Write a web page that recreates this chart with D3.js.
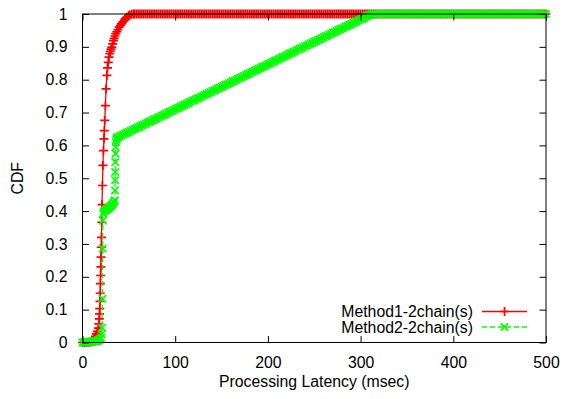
<!DOCTYPE html>
<html><head><meta charset="utf-8">
<script src="https://cdn.jsdelivr.net/npm/d3@7/dist/d3.min.js"></script>
<style>
body{margin:0;background:#fff}
svg{display:block}
text{font-family:"Liberation Sans",Arial,Helvetica,sans-serif;font-size:15.8px;fill:#000}
</style>
</head><body>
<svg id="chart" width="563" height="399"></svg>
<script>
// ---------- data ----------
const xTicks = [0, 100, 200, 300, 400, 500];
const yTicks = [0, 0.1, 0.2, 0.3, 0.4, 0.5, 0.6, 0.7, 0.8, 0.9, 1];
const yTickLabels = ["0", "0.1", "0.2", "0.3", "0.4", "0.5", "0.6", "0.7", "0.8", "0.9", "1"];
const seriesNames = ["Method1-2chain(s)", "Method2-2chain(s)"];
const xLabel = "Processing Latency (msec)";
const yLabel = "CDF";

// Method1: [latency msec, cdf]
const method1Head = [[0,0],[2,0],[4,0],[6,0.001],[8,0.001],[10,0.002],[11,0.004],[12,0.008],[13,0.013],[14,0.019],[15,0.026],[16,0.034],[17,0.044],
[17.6,0.057],[18.1,0.072],[18.4,0.087],[18.6,0.103],[18.9,0.125],[19.1,0.15],[19.3,0.179],[19.5,0.204],[19.8,0.23],
[20,0.26],[20.3,0.29],[20.5,0.32],[20.8,0.366],[21.1,0.42],[21.5,0.478],
[22,0.539],[22.6,0.584],[23.2,0.62],[23.6,0.645],[24,0.676],[24.7,0.721],[25.4,0.772],[26.3,0.813],[27,0.836],[27.8,0.853],[28.6,0.869],[29.4,0.879],
[30,0.886],[30.8,0.893],[31.6,0.899],[32.5,0.909],[33.4,0.919],[34.2,0.926],[35,0.933],[35.9,0.94],
[37,0.946],[38.2,0.952],[39.5,0.96],[40.8,0.965],[42,0.97],[43.4,0.975],[44.9,0.98],[46,0.985],[47.5,0.99],[49.6,0.995],[51,0.997],[53,0.999],[55,1]];
const method1Tail = [[56,1],[58,1],[60,1],[62,1],[64,1],[66,1],[68,1],[70,1],[72,1],[74,1],[76,1],[78,1],[80,1],[82,1],[84,1],[86,1],[88,1],[90,1],[92,1],[94,1],[96,1],[98,1],[100,1],
[102,1],[104,1],[106,1],[108,1],[110,1],[112,1],[114,1],[116,1],[118,1],[120,1],[122,1],[124,1],[126,1],[128,1],[130,1],[132,1],[134,1],[136,1],[138,1],[140,1],[142,1],[144,1],[146,1],[148,1],[150,1],
[152,1],[154,1],[156,1],[158,1],[160,1],[162,1],[164,1],[166,1],[168,1],[170,1],[172,1],[174,1],[176,1],[178,1],[180,1],[182,1],[184,1],[186,1],[188,1],[190,1],[192,1],[194,1],[196,1],[198,1],[200,1],
[202,1],[204,1],[206,1],[208,1],[210,1],[212,1],[214,1],[216,1],[218,1],[220,1],[222,1],[224,1],[226,1],[228,1],[230,1],[232,1],[234,1],[236,1],[238,1],[240,1],[242,1],[244,1],[246,1],[248,1],[250,1],
[252,1],[254,1],[256,1],[258,1],[260,1],[262,1],[264,1],[266,1],[268,1],[270,1],[272,1],[274,1],[276,1],[278,1],[280,1],[282,1],[284,1],[286,1],[288,1],[290,1],[292,1],[294,1],[296,1],[298,1],[300,1],
[302,1],[304,1],[306,1],[308,1],[310,1],[312,1],[314,1],[316,1],[318,1],[320,1],[322,1],[324,1],[326,1],[328,1],[330,1],[332,1],[334,1],[336,1],[338,1],[340,1],[342,1],[344,1],[346,1],[348,1],[350,1],
[352,1],[354,1],[356,1],[358,1],[360,1],[362,1],[364,1],[366,1],[368,1],[370,1],[372,1],[374,1],[376,1],[378,1],[380,1],[382,1],[384,1],[386,1],[388,1],[390,1],[392,1],[394,1],[396,1],[398,1],[400,1],
[402,1],[404,1],[406,1],[408,1],[410,1],[412,1],[414,1],[416,1],[418,1],[420,1],[422,1],[424,1],[426,1],[428,1],[430,1],[432,1],[434,1],[436,1],[438,1],[440,1],[442,1],[444,1],[446,1],[448,1],[450,1],
[452,1],[454,1],[456,1],[458,1],[460,1],[462,1],[464,1],[466,1],[468,1],[470,1],[472,1],[474,1],[476,1],[478,1],[480,1],[482,1],[484,1],[486,1],[488,1],[490,1],[492,1],[494,1],[496,1],[498,1],[500,1]];

// Method2: [latency msec, cdf]
const method2Head = [[0,0],[1,0],[2,0.001],[3,0.001],[4,0.001],[5,0.001],[6,0.001],[7,0.002],[8,0.002],[9,0.002],[10,0.002],[11,0.003],[12,0.003],[13,0.003],[14,0.004],[15,0.004],[16,0.005],[17,0.006],[18,0.008],[19,0.01],[20,0.014],
[20.6,0.025],[21.2,0.045],[21.5,0.133],[21.8,0.286],[22,0.371],[22.4,0.392],[23,0.398],[24,0.401],[25,0.403],[26,0.405],[27,0.407],[28,0.409],[29,0.411],[30,0.414],[31,0.417],[32,0.42],[33,0.424],[34,0.428],[35,0.433],
[35.1,0.463],[35.2,0.494],[35.3,0.519],[35.4,0.549],[35.6,0.575],[35.8,0.595],[36.1,0.61],[36.5,0.618],[37,0.622]];
const method2Mid = [[38,0.625],[40,0.628],[42,0.630],[44,0.633],[46,0.636],[48,0.639],[50,0.641],[52,0.644],[54,0.647],[56,0.650],[58,0.652],[60,0.655],[62,0.658],[64,0.661],[66,0.663],[68,0.666],[70,0.669],[72,0.672],[74,0.674],[76,0.677],
[78,0.680],[80,0.682],[82,0.685],[84,0.688],[86,0.691],[88,0.693],[90,0.696],[92,0.699],[94,0.702],[96,0.704],[98,0.707],[100,0.710],[102,0.713],[104,0.715],[106,0.718],[108,0.721],[110,0.724],[112,0.726],[114,0.729],[116,0.732],
[118,0.735],[120,0.737],[122,0.740],[124,0.743],[126,0.745],[128,0.748],[130,0.751],[132,0.754],[134,0.756],[136,0.759],[138,0.762],[140,0.765],[142,0.767],[144,0.770],[146,0.773],[148,0.776],[150,0.778],[152,0.781],[154,0.784],[156,0.786],
[158,0.789],[160,0.792],[162,0.795],[164,0.797],[166,0.800],[168,0.803],[170,0.806],[172,0.808],[174,0.811],[176,0.814],[178,0.817],[180,0.819],[182,0.822],[184,0.825],[186,0.828],[188,0.830],[190,0.833],[192,0.836],[194,0.839],[196,0.841],
[198,0.844],[200,0.847],[202,0.849],[204,0.852],[206,0.855],[208,0.858],[210,0.860],[212,0.863],[214,0.866],[216,0.869],[218,0.871],[220,0.874],[222,0.877],[224,0.880],[226,0.882],[228,0.885],[230,0.888],[232,0.891],[234,0.893],[236,0.896],
[238,0.899],[240,0.902],[242,0.904],[244,0.907],[246,0.910],[248,0.912],[250,0.915],[252,0.918],[254,0.921],[256,0.923],[258,0.926],[260,0.929],[262,0.932],[264,0.934],[266,0.937],[268,0.940],[270,0.943],[272,0.945],[274,0.948],[276,0.951],
[278,0.954],[280,0.956],[282,0.959],[284,0.962],[286,0.964],[288,0.967],[290,0.970],[292,0.973],[294,0.975],[296,0.978],[298,0.981],[300,0.984],[302,0.986],[304,0.989],[306,0.992],[308,0.995],[310,0.997],[312,1]];
const method2Tail = [[314,1],[316,1],[318,1],[320,1],[322,1],[324,1],[326,1],[328,1],[330,1],[332,1],[334,1],[336,1],[338,1],[340,1],[342,1],[344,1],[346,1],[348,1],[350,1],
[352,1],[354,1],[356,1],[358,1],[360,1],[362,1],[364,1],[366,1],[368,1],[370,1],[372,1],[374,1],[376,1],[378,1],[380,1],[382,1],[384,1],[386,1],[388,1],[390,1],[392,1],[394,1],[396,1],[398,1],[400,1],
[402,1],[404,1],[406,1],[408,1],[410,1],[412,1],[414,1],[416,1],[418,1],[420,1],[422,1],[424,1],[426,1],[428,1],[430,1],[432,1],[434,1],[436,1],[438,1],[440,1],[442,1],[444,1],[446,1],[448,1],[450,1],
[452,1],[454,1],[456,1],[458,1],[460,1],[462,1],[464,1],[466,1],[468,1],[470,1],[472,1],[474,1],[476,1],[478,1],[480,1],[482,1],[484,1],[486,1],[488,1],[490,1],[492,1],[494,1],[496,1],[498,1],[500,1]];

const method1 = method1Head.concat(method1Tail);
const method2 = method2Head.concat(method2Mid, method2Tail);

// ---------- layout ----------
const W = 563, H = 399;
const plot = {left: 82.5, right: 546, top: 14, bottom: 342.5};
const colors = ["#ff0000", "#00ff00"];
const markerR = 4.5;

const svg = d3.select("#chart");
svg.append("rect").attr("width", W).attr("height", H).attr("fill", "#fff");

const x = d3.scaleLinear().domain([0, 500]).range([plot.left, plot.right]);
const y = d3.scaleLinear().domain([0, 1]).range([plot.bottom, plot.top]);

const plusPath = `M${-markerR},0H${markerR}M0,${-markerR}V${markerR}`;
const cr = markerR - 0.8;
const crossPath = `M${-cr},${-cr}L${cr},${cr}M${cr},${-cr}L${-cr},${cr}`;
const markers = [plusPath, crossPath];
const dashes = [null, "5,3"];

const line = d3.line().x(d => x(d[0])).y(d => y(d[1]));
const allSeries = [method1, method2];

allSeries.forEach((data, i) => {
  const g = svg.append("g");
  g.append("path").attr("d", line(data)).attr("fill", "none")
    .attr("stroke", colors[i]).attr("stroke-width", 1.3)
    .attr("stroke-dasharray", dashes[i]);
  g.selectAll("path.m").data(data).join("path").attr("class", "m")
    .attr("d", markers[i])
    .attr("transform", d => `translate(${x(d[0])},${y(d[1])})`)
    .attr("fill", "none").attr("stroke", colors[i]).attr("stroke-width", 1.7);
});

// ---------- axes / border ----------
const tickLen = 6.5;
const axisG = svg.append("g");
const xAxisB = d3.axisBottom(x).tickValues(xTicks).tickSizeInner(-tickLen).tickSizeOuter(0).tickFormat(d3.format("d")).tickPadding(14);
const xAxisT = d3.axisTop(x).tickValues(xTicks).tickSizeInner(-tickLen).tickSizeOuter(0).tickFormat("");
const yAxisL = d3.axisLeft(y).tickValues(yTicks).tickSizeInner(-tickLen).tickSizeOuter(0).tickFormat((d, i) => yTickLabels[i]).tickPadding(15);
const yAxisR = d3.axisRight(y).tickValues(yTicks).tickSizeInner(-tickLen).tickSizeOuter(0).tickFormat("");

axisG.append("g").attr("transform", `translate(0,${plot.bottom})`).call(xAxisB);
axisG.append("g").attr("transform", `translate(0,${plot.top})`).call(xAxisT);
axisG.append("g").attr("transform", `translate(${plot.left},0)`).call(yAxisL);
axisG.append("g").attr("transform", `translate(${plot.right},0)`).call(yAxisR);
axisG.selectAll(".domain").remove();
axisG.selectAll(".tick line").attr("stroke", "#000").attr("stroke-width", 1);
axisG.selectAll(".tick text").attr("font-family", null).attr("font-size", null).attr("fill", "#000");

svg.append("rect").attr("x", plot.left).attr("y", plot.top)
  .attr("width", plot.right - plot.left).attr("height", plot.bottom - plot.top)
  .attr("fill", "none").attr("stroke", "#000").attr("stroke-width", 1);

// ---------- axis titles ----------
svg.append("text").attr("x", (plot.left + plot.right) / 2).attr("y", 387)
  .attr("text-anchor", "middle").text(xLabel);
svg.append("text").attr("transform", `translate(23,${(plot.top + plot.bottom) / 2}) rotate(-90)`)
  .attr("text-anchor", "middle").text(yLabel);

// ---------- legend ----------
const legY = [311.5, 327];
const legTextX = 473, legL = 482, legR = 527, legM = 504.5;
seriesNames.forEach((name, i) => {
  svg.append("text").attr("x", legTextX).attr("y", legY[i]).attr("dy", "0.35em")
    .attr("text-anchor", "end").text(name);
  svg.append("line").attr("x1", legL).attr("x2", legR).attr("y1", legY[i]).attr("y2", legY[i])
    .attr("stroke", colors[i]).attr("stroke-width", 1.3).attr("stroke-dasharray", dashes[i]);
  svg.append("path").attr("d", markers[i]).attr("transform", `translate(${legM},${legY[i]})`)
    .attr("fill", "none").attr("stroke", colors[i]).attr("stroke-width", 1.7);
});
</script>
</body></html>
